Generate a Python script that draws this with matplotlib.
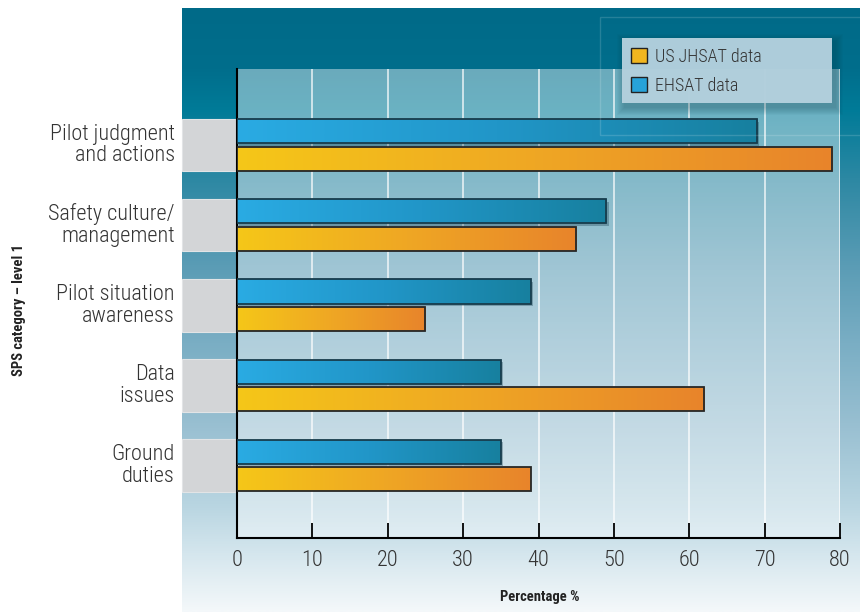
import numpy as np
import matplotlib.pyplot as plt
from matplotlib import font_manager
from matplotlib.colors import LinearSegmentedColormap
from matplotlib.patches import Rectangle, Patch

categories = ["Pilot judgment\nand actions", "Safety culture/\nmanagement",
              "Pilot situation\nawareness", "Data\nissues", "Ground\nduties"]
ehsat = [69, 49, 39, 35, 35]
us_jhsat = [79, 45, 25, 62, 39]
xticks = [0, 10, 20, 30, 40, 50, 60, 70, 80]
series_labels = ["US JHSAT data", "EHSAT data"]

W, H = 860, 614

# pick a narrow face if one is installed
installed = {f.name for f in font_manager.fontManager.ttflist}
narrow = next((n for n in ["Roboto Condensed", "Liberation Sans Narrow",
                           "Open Sans Condensed"] if n in installed), "DejaVu Sans")
plt.rcParams['font.family'] = [narrow, 'DejaVu Sans']


def fbox(x0, y0, x1, y1):
    """pixel box (top-left origin) -> figure rect"""
    return [x0 / W, 1 - y1 / H, (x1 - x0) / W, (y1 - y0) / H]


def frect(x0, y0, x1, y1, **kw):
    return Rectangle((x0 / W, 1 - y1 / H), (x1 - x0) / W, (y1 - y0) / H,
                     transform=fig.transFigure, **kw)


fig = plt.figure(figsize=(W / 100, H / 100), dpi=100)

# teal backdrop panel, dark at the top fading to near white
bg = fig.add_axes(fbox(182, 8, 860, 612), zorder=0)
bg.axis('off')
bg_cmap = LinearSegmentedColormap.from_list('panel', [
    (0.0, '#006a88'), (0.10, '#006e8c'), (0.167, '#007b98'), (0.29, '#2f89a4'),
    (0.425, '#5a9cb5'), (0.556, '#7aaec4'), (0.689, '#98bfd1'),
    (0.823, '#b8d5e1'), (0.914, '#d8e8ef'), (1.0, '#f4f8fa')])
bg.imshow(np.linspace(0, 1, 512).reshape(-1, 1), cmap=bg_cmap, aspect='auto',
          extent=[0, 1, 0, 1], origin='upper', interpolation='bilinear')
bg.set_xlim(0, 1)
bg.set_ylim(0, 1)

ax = fig.add_axes(fbox(237, 69, 840, 538), zorder=1)
ax.set_facecolor((1, 1, 1, 0.42))

y = np.arange(len(categories))
h = 0.30
off = 0.17

blue_cmap = LinearSegmentedColormap.from_list('blue', ['#2aabe3', '#2196c8', '#17809f'])
yellow_cmap = LinearSegmentedColormap.from_list('yellow', ['#f5c718', '#efa724', '#e8842b'])

blue_bars = ax.barh(y - off, ehsat, height=h, facecolor='none',
                    edgecolor='#173c4c', linewidth=1.3, zorder=4)
yellow_bars = ax.barh(y + off, us_jhsat, height=h, facecolor='none',
                      edgecolor='#262626', linewidth=1.3, zorder=4)

grad = np.linspace(0, 1, 256).reshape(1, -1)
for bars, cmap in ((blue_bars, blue_cmap), (yellow_bars, yellow_cmap)):
    for b in bars:
        x0, y0, w, bh = b.get_x(), b.get_y(), b.get_width(), b.get_height()
        im = ax.imshow(grad, cmap=cmap, extent=[x0, x0 + w, y0 + bh, y0],
                       aspect='auto', zorder=3, interpolation='bilinear')
        im.set_clip_path(b)

# soft drop shadow under the blue bars
for b in blue_bars:
    ax.add_patch(Rectangle((b.get_x() + 0.3, b.get_y() + 0.035), b.get_width(), b.get_height(),
                           facecolor='#0b3344', alpha=0.3, edgecolor='none', zorder=2.5))

# grey label plates left of the axis
trans = ax.get_yaxis_transform()
for yi in y:
    ax.add_patch(Rectangle((-55 / 603, yi - 0.33), 54 / 603, 0.66, transform=trans,
                           facecolor='#d3d5d7', edgecolor='#e2e4e6', linewidth=0.8,
                           clip_on=False, zorder=2))

for yi, lab in zip(y, categories):
    ax.text(-62 / 603, yi, lab, transform=trans, ha='right', va='center',
            multialignment='right', fontsize=16, fontweight='light',
            color='#333333', linespacing=1.05)

ax.set_xlim(0, 80)
ax.set_ylim(4.91, -0.95)
ax.set_xticks(xticks)
ax.set_yticks([])
ax.grid(axis='x', color='white', linewidth=1.1, alpha=0.85)
ax.set_axisbelow(True)
ax.tick_params(axis='x', direction='in', length=11, width=1.3, color='black',
               labelsize=16, labelcolor='#333333', pad=9)
for t in ax.get_xticklabels():
    t.set_fontweight('light')
for s in ('top', 'right'):
    ax.spines[s].set_visible(False)
for s in ('left', 'bottom'):
    ax.spines[s].set_color('black')
    ax.spines[s].set_linewidth(1.5)

fig.text(540 / W, 1 - 597 / H, "Percentage %", ha='center', va='center',
         fontsize=10.5, fontweight='bold', color='#222222')
fig.text(19 / W, 1 - 310 / H, "SPS category \u2013 level 1", ha='center', va='center',
         rotation=90, fontsize=10.5, fontweight='bold', color='#222222')

# faint frame in the upper right corner of the panel
fig.add_artist(frect(600, 17, 862, 135, facecolor='none', edgecolor=(1, 1, 1, 0.15),
                     linewidth=1, zorder=2))

# legend box with a soft shadow behind it
lx0, ly0, lx1, ly1 = 622, 38, 832, 103
for k in range(8, 0, -1):
    fig.add_artist(frect(lx0 + 3 - k, ly0 + 4 - k, lx1 + 3 + k, ly1 + 4 + k,
                         facecolor='#0a3442', alpha=0.035, edgecolor='none', zorder=2.5))
fig.add_artist(frect(lx0, ly0, lx1, ly1, facecolor='#b4d1de', alpha=0.97,
                     edgecolor='none', zorder=2.6))

handles = [Patch(facecolor='#f1b61f', edgecolor='#222222', label=series_labels[0]),
           Patch(facecolor='#27a3d9', edgecolor='#222222', label=series_labels[1])]
leg = fig.legend(handles=handles, loc='upper left', bbox_to_anchor=(631 / W, 1 - 48 / H),
                 bbox_transform=fig.transFigure, frameon=False, fontsize=13,
                 handlelength=0.9, handleheight=0.9, handletextpad=0.45,
                 labelspacing=0.62, borderpad=0, borderaxespad=0, labelcolor='#333333')
for t in leg.get_texts():
    t.set_fontweight('light')
leg.set_zorder(3)

fig.savefig('out.png', dpi=100)
